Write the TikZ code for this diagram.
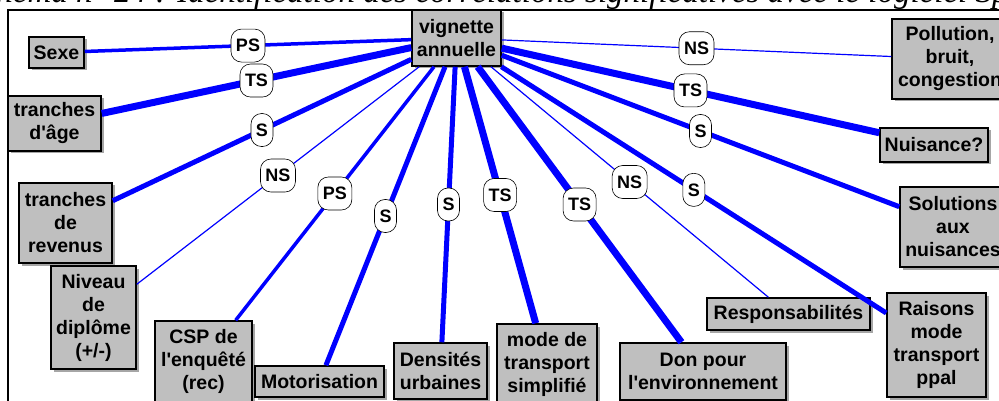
\documentclass[tikz,border=0pt]{standalone}
\usepackage{fontspec}
\newfontfamily\boitefont{Liberation Sans}
\newfontfamily\titrefont{Liberation Serif}
\usetikzlibrary{shadows}

\begin{document}
\begin{tikzpicture}[
    x=1pt, y=-1pt,
    boite/.style={draw=black, line width=1.5pt, fill=black!25, align=center, inner sep=2pt,
        font=\boitefont\bfseries\fontsize{19.5}{23}\selectfont,
        drop shadow={shadow xshift=2.5pt, shadow yshift=-2.5pt, fill=black!35, opacity=1}},
    pastille/.style={draw=black, text=black, line width=0.6pt, fill=white, rounded corners=10.5pt,
        minimum height=33pt, inner xsep=5pt, inner ysep=0pt,
        font=\boitefont\bfseries\fontsize{18}{20}\selectfont},
    ns/.style={blue, line width=1.2pt},
    ps/.style={blue, line width=3.5pt},
    sig/.style={blue, line width=5pt},
    ts/.style={blue, line width=7pt},
]
    \useasboundingbox (0, 0) rectangle (999, 401);
    \clip (0, 0) rectangle (999, 401);

    % Titre (coupe en haut)
    \node (titre) at (-35, 2.5) [anchor=base west, inner sep=0pt,
        font=\titrefont\itshape\fontsize{33}{36}\selectfont]
        {Schéma n° 24 : Identification des corrélations significatives avec le logiciel Sphinx};
    \draw [line width=2pt] (8, 410) -- (8, 10) -- (1010, 10);

    % Variable centrale
    \node at (456.5, 38) [boite, minimum width=89, minimum height=56](vig){vignette\\annuelle};

    % Variables a gauche
    \node at (56.5, 52.5) [boite, minimum width=55, minimum height=31](sexe){Sexe};
    \node at (54.5, 123.5) [boite, minimum width=93, minimum height=55](age){tranches\\d'âge};
    \node at (65.5, 223) [boite, minimum width=93, minimum height=80](revenus){tranches\\de\\revenus};
    \node at (93.5, 317.5) [boite, minimum width=85, minimum height=103](diplome){Niveau\\de\\diplôme\\(+/-)};

    % Variables en bas
    \node at (203.5, 361.5) [boite, minimum width=97, minimum height=81](csp){CSP de\\l'enquêté\\(rec)};
    \node at (319.5, 381.5) [boite, minimum width=129, minimum height=31](moto){Motorisation};
    \node at (440.5, 371) [boite, minimum width=93, minimum height=56](densite){Densités\\urbaines};
    \node at (547, 364) [boite, minimum width=100, minimum height=80](mode){mode de\\transport\\simplifié};
    \node at (703, 371.5) [boite, minimum width=166, minimum height=57](don){Don pour\\l'environnement};
    \node at (788.5, 314) [boite, minimum width=163, minimum height=32](resp){Responsabilités};

    % Variables a droite
    \node at (936.5, 345) [boite, minimum width=99, minimum height=104](raisons){Raisons\\mode\\transport\\ppal};
    \node at (953, 227) [boite, minimum width=106, minimum height=80](solutions){Solutions\\aux\\nuisances};
    \node at (934, 145) [boite, minimum width=108, minimum height=34](nuisance){Nuisance?};
    \node at (950, 59) [boite, minimum width=116, minimum height=80](pollution){Pollution,\\bruit,\\congestion};

    % Liens et significativite
    \draw [ps] (vig) -- node[pastille]{PS} (sexe);
    \draw [ts] (vig) -- node[pastille]{TS} (age);
    \draw [sig] (vig) -- node[pastille]{S} (revenus);
    \draw [ns] (vig) -- node[pastille]{NS} (diplome);
    \draw [ps] (vig) -- node[pastille]{PS} (csp);
    \draw [sig] (vig) -- node[pastille]{S} (moto);
    \draw [sig] (vig) -- node[pastille]{S} (densite);
    \draw [ts] (vig) -- node[pastille]{TS} (mode);
    \draw [ts] (vig) -- node[pastille]{TS} (don);
    \draw [ns] (vig) -- node[pastille]{NS} (resp);
    \draw [sig] (vig) -- node[pastille]{S} (raisons);
    \draw [sig] (vig) -- node[pastille]{S} (solutions);
    \draw [ts] (vig) -- node[pastille]{TS} (nuisance);
    \draw [ns] (vig) -- node[pastille]{NS} (pollution);

\end{tikzpicture}
\end{document}
